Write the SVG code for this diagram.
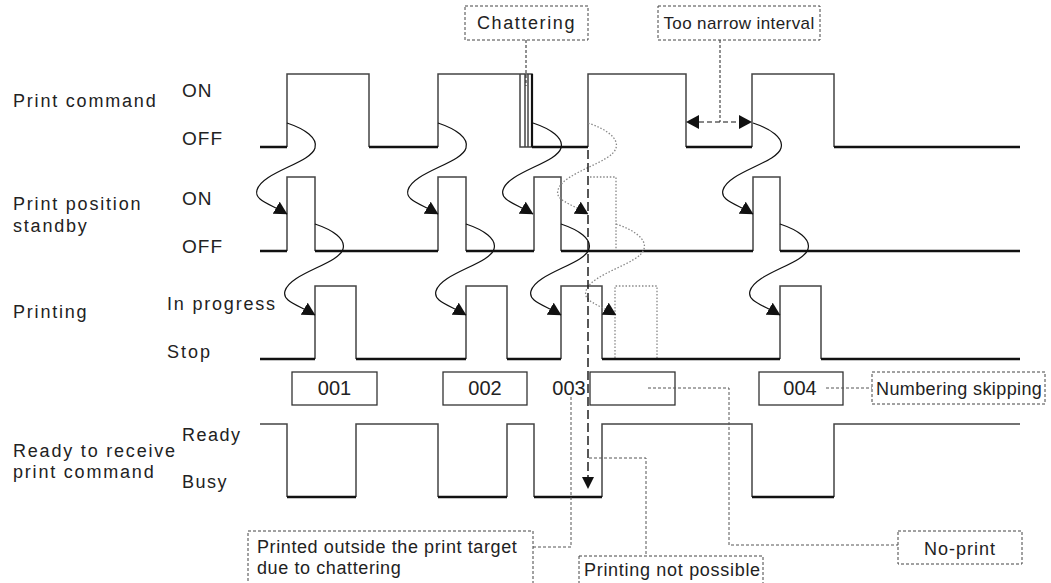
<svg xmlns="http://www.w3.org/2000/svg" width="1051" height="583" viewBox="0 0 1051 583">
<style>
text{font-family:"Liberation Sans",Arial,sans-serif;fill:#222}
.lbl{font-size:18px;letter-spacing:1.8px}
.st{font-size:19px;letter-spacing:1px}
.num{font-size:20px;text-anchor:middle}
.note{font-size:18px;letter-spacing:0.6px}
.w{fill:none;stroke:#444;stroke-width:1.5}
.low{fill:none;stroke:#111;stroke-width:2.6}
.dot{fill:none;stroke:#888;stroke-width:1.3;stroke-dasharray:1.5 1.8}
.cv{fill:none;stroke:#111;stroke-width:1.2}
.cvd{fill:none;stroke:#888;stroke-width:1.3;stroke-dasharray:1.5 1.8}
.box{fill:#fff;stroke:#333;stroke-width:1.3}
.dbox{fill:#fff;stroke:#444;stroke-width:1;stroke-dasharray:3 2}
.lead{fill:none;stroke:#555;stroke-width:1;stroke-dasharray:3 2}
</style>
<defs>
<marker id="ah" markerUnits="userSpaceOnUse" viewBox="0 0 13 14" markerWidth="13" markerHeight="14" refX="12.5" refY="7" orient="auto">
<path d="M0,0 L13,7 L0,14 z" fill="#111"/>
</marker>
<path id="sA" d="m0,0 c18,6 31,15 28,25 c-4,15 -53,24 -58,42 c-3,10 11,13 30,24"/>
</defs>

<g id="labels">
<text class="lbl" x="13" y="107">Print command</text>
<text class="lbl" x="13" y="210">Print position</text>
<text class="lbl" x="13" y="232">standby</text>
<text class="lbl" x="13" y="318">Printing</text>
<text class="lbl" x="13" y="457">Ready to receive</text>
<text class="lbl" x="13" y="478">print command</text>
<text class="st" x="182" y="97">ON</text>
<text class="st" x="182" y="145">OFF</text>
<text class="st" x="182" y="205">ON</text>
<text class="st" x="182" y="253">OFF</text>
<text class="lbl" x="167" y="310">In progress</text>
<text class="lbl" x="167" y="358" style="letter-spacing:2px">Stop</text>
<text class="lbl" x="182" y="441" style="letter-spacing:1.5px">Ready</text>
<text class="lbl" x="182" y="488" style="letter-spacing:1.5px">Busy</text>
</g>

<g id="wave-command">
<polyline class="w" points="287,147 287,74 369,74 369,147"/>
<polyline class="w" points="438,147 438,74 532,74 532,147"/>
<polyline class="w" points="520,74 520,147 532,147"/>
<line class="w" x1="525" y1="74" x2="525" y2="147"/>
<line class="w" x1="528" y1="74" x2="528" y2="147"/>
<line x1="532" y1="74" x2="532" y2="147" stroke="#111" stroke-width="2.2"/>
<polyline class="w" points="588,147 588,74 686,74 686,147"/>
<polyline class="w" points="752,147 752,74 834,74 834,147"/>
<path class="low" d="M260,147 H287 M369,147 H438 M532,147 H588 M686,147 H752 M834,147 H1020"/>
</g>

<g id="wave-standby">
<polyline class="w" points="287,251 287,177 315,177 315,251"/>
<polyline class="w" points="438,251 438,177 466,177 466,251"/>
<polyline class="w" points="534,251 534,177 561,177 561,251"/>
<polyline class="w" points="753,251 753,177 780,177 780,251"/>
<polyline class="dot" points="590,177 616,177 616,250"/>
<path class="low" d="M260,251 H287 M315,251 H438 M466,251 H534 M561,251 H753 M780,251 H1020"/>
</g>

<g id="wave-printing">
<polyline class="w" points="315,359 315,286 356,286 356,359"/>
<polyline class="w" points="466,359 466,286 507,286 507,359"/>
<polyline class="w" points="561,359 561,286 602,286 602,359"/>
<polyline class="w" points="780,359 780,286 821,286 821,359"/>
<polyline class="dot" points="615,358 615,286 657,286 657,358"/>
<path class="low" d="M260,359 H315 M356,359 H466 M507,359 H561 M602,359 H780 M821,359 H1020"/>
</g>

<g id="wave-ready">
<polyline class="w" points="260,424 287,424 287,497"/>
<polyline class="w" points="356,497 356,424 438,424 438,497"/>
<polyline class="w" points="507,497 507,424 534,424 534,497"/>
<polyline class="w" points="602,497 602,424 752,424 752,497"/>
<polyline class="w" points="834,497 834,424 1020,424"/>
<path class="low" d="M287,497 H356 M438,497 H507 M534,497 H602 M752,497 H834"/>
</g>

<g id="numbers">
<rect class="box" x="292" y="372" width="85" height="33"/>
<text class="num" x="334.5" y="395">001</text>
<rect class="box" x="443" y="372" width="84" height="33"/>
<text class="num" x="485" y="395">002</text>
<text class="num" x="569" y="395">003</text>
<rect class="box" x="590" y="372" width="85" height="33"/>
<rect class="box" x="759" y="372" width="84" height="33"/>
<text class="num" x="800" y="395">004</text>
</g>

<g id="connectors">
<use href="#sA" class="cv" x="287" y="123" marker-end="url(#ah)"/>
<use href="#sA" class="cv" x="438" y="123" marker-end="url(#ah)"/>
<use href="#sA" class="cv" x="533" y="123" marker-end="url(#ah)"/>
<use href="#sA" class="cv" x="753" y="123" marker-end="url(#ah)"/>
<use href="#sA" class="cvd" x="588" y="123" marker-end="url(#ah)"/>
<use href="#sA" class="cv" x="315" y="224" marker-end="url(#ah)"/>
<use href="#sA" class="cv" x="466" y="224" marker-end="url(#ah)"/>
<use href="#sA" class="cv" x="561" y="224" marker-end="url(#ah)"/>
<use href="#sA" class="cv" x="780" y="224" marker-end="url(#ah)"/>
<use href="#sA" class="cvd" x="616" y="224" marker-end="url(#ah)"/>
<line x1="588" y1="150" x2="588" y2="478" stroke="#111" stroke-width="1.4" stroke-dasharray="9 4"/>
<polygon points="582,477 594,477 588,489" fill="#111"/>
<line x1="699" y1="122" x2="740" y2="122" stroke="#111" stroke-width="1.2" stroke-dasharray="5 3"/>
<polygon points="686,122 699,115 699,129" fill="#111"/>
<polygon points="752,122 739,115 739,129" fill="#111"/>
<line class="lead" x1="526" y1="40" x2="526" y2="86" style="stroke:#222"/>
<line class="lead" x1="720" y1="40" x2="720" y2="122" style="stroke:#222"/>
<polyline class="lead" points="571,397 571,547 533,547"/>
<polyline class="lead" points="589,458 646,458 646,556"/>
<polyline class="lead" points="648,388 729,388 729,545 898,545"/>
<line class="lead" x1="826" y1="388" x2="872" y2="388"/>
</g>

<g id="note-chattering">
<rect class="dbox" x="465" y="6" width="123" height="34"/>
<text class="note" x="526.5" y="29" text-anchor="middle" style="letter-spacing:1.6px">Chattering</text>
</g>
<g id="note-narrow">
<rect class="dbox" x="658" y="6" width="162" height="34"/>
<text class="note" x="739" y="29" text-anchor="middle" style="font-size:17px;letter-spacing:0.4px">Too narrow interval</text>
</g>
<g id="note-skipping">
<rect class="dbox" x="872" y="372" width="173" height="32"/>
<text class="note" x="876" y="395" style="letter-spacing:0.4px">Numbering skipping</text>
</g>
<g id="note-noprint">
<rect class="dbox" x="898" y="531" width="124" height="33"/>
<text class="note" x="960" y="555" text-anchor="middle" style="letter-spacing:1px">No-print</text>
</g>
<g id="note-outside">
<rect class="dbox" x="248" y="531" width="285" height="60"/>
<text class="note" x="257" y="553">Printed outside the print target</text>
<text class="note" x="257" y="574">due to chattering</text>
</g>
<g id="note-notpossible">
<rect class="dbox" x="579" y="556" width="184" height="35"/>
<text class="note" x="584" y="576" style="letter-spacing:0.7px">Printing not possible</text>
</g>
</svg>
